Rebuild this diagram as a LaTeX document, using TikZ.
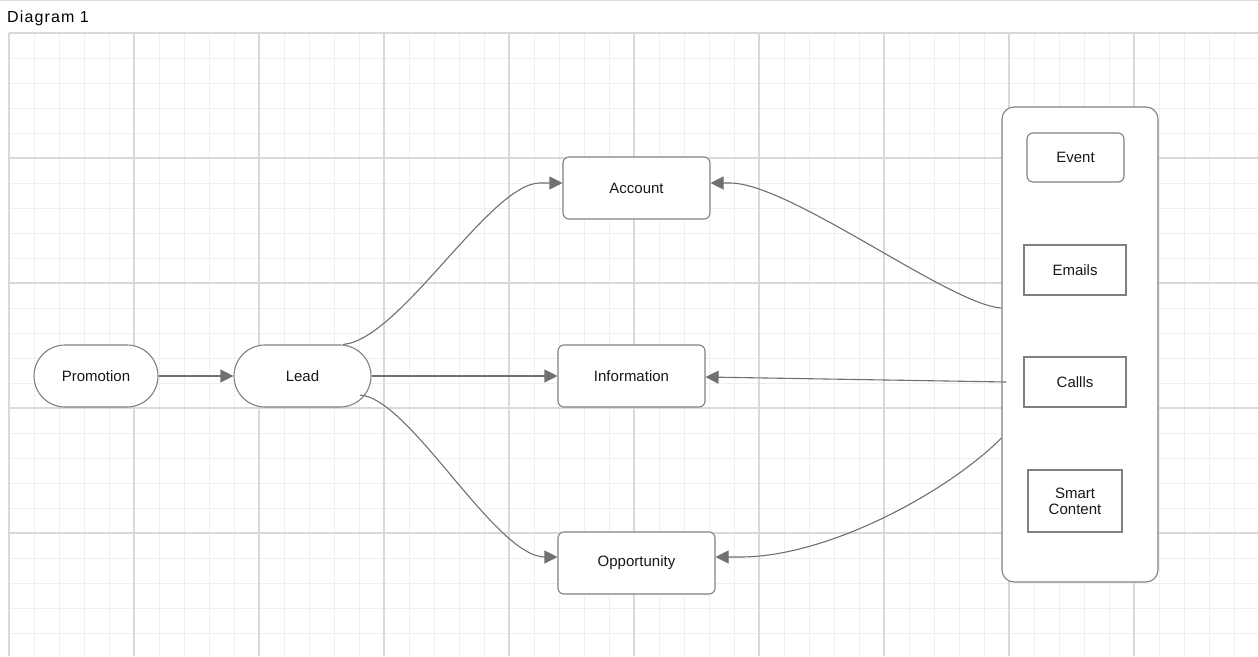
\documentclass[tikz,border=0pt]{standalone}
\usepackage{fontspec}
\setmainfont{Liberation Sans}
\usetikzlibrary{arrows.meta,calc}
\definecolor{edgegray}{HTML}{707070}
\definecolor{boxgray}{HTML}{808080}
\definecolor{minorgrid}{HTML}{EFEFEF}
\definecolor{majorgrid}{HTML}{D9D9D9}
\tikzset{
  minorline/.style={draw=minorgrid, line width=1pt},
  majorline/.style={draw=majorgrid, line width=1.2pt},
  lbl/.style={font=\fontsize{15}{17}\selectfont, text=black!90, align=center},
  stadium/.style={lbl, draw=boxgray, fill=white, line width=1.1pt, rounded corners=31pt, minimum width=124pt, minimum height=62pt, inner sep=0pt},
  rbox/.style={lbl, draw=boxgray, fill=white, line width=1.1pt, rounded corners=6pt, inner sep=0pt},
  sbox/.style={lbl, draw=boxgray, fill=white, line width=1.1pt, inner sep=0pt},
  arr/.style={draw=edgegray, line width=1.1pt, -{Triangle[length=13pt,width=13pt]}, shorten >=0pt},
}
\begin{document}
\begin{tikzpicture}[x=1pt,y=-1pt]
\useasboundingbox (0,0) rectangle (1258,656);
\fill[white] (0,0) rectangle (1258,656);
\draw[draw=majorgrid, line width=1pt] (0,0.5) -- (1258,0.5);
% grid
\foreach \i in {0,...,49} {\draw[minorline] ({9+25*\i},33) -- ({9+25*\i},656);}
\foreach \j in {0,...,24} {\draw[minorline] (9,{33+25*\j}) -- (1258,{33+25*\j});}
\foreach \i in {0,...,9} {\draw[majorline] ({9+125*\i},33) -- ({9+125*\i},656);}
\foreach \j in {0,...,4} {\draw[majorline] (9,{33+125*\j}) -- (1258,{33+125*\j});}
% title
\node[anchor=base west, inner sep=0pt, font=\fontsize{16}{18}\selectfont\addfontfeature{LetterSpace=7}] (title) at (7,22) {Diagram 1};
% nodes
\node[stadium] (prom) at (96,376) {Promotion};
\node[stadium, minimum width=137pt] (lead) at (302.5,376) {Lead};
\node[rbox, minimum width=147pt, minimum height=62pt] (acc) at (636.5,188) {Account};
\node[rbox, minimum width=147pt, minimum height=62pt] (info) at (631.5,376) {Information};
\node[rbox, minimum width=157pt, minimum height=62pt] (opp) at (636.5,563) {Opportunity};
\node[draw=boxgray, fill=white, line width=1.1pt, rounded corners=12pt, minimum width=156pt, minimum height=475pt, inner sep=0pt] (cont) at (1080,344.5) {};
\node[rbox, minimum width=97pt, minimum height=49pt] (event) at (1075.5,157.5) {Event};
\node[sbox, minimum width=102pt, minimum height=50pt] (emails) at (1075,270) {Emails};
\node[sbox, minimum width=102pt, minimum height=50pt] (calls) at (1075,382) {Callls};
\node[sbox, minimum width=94pt, minimum height=62pt] (smart) at (1075,501) {Smart\\[-1pt]Content};
% connectors
\coordinate (leadtop) at ($(lead.north)+(40.5,0)$);
\coordinate (leadbot) at (360,395);
\coordinate (contA) at ($(cont.west)+(0,-36.5)$);
\coordinate (contO) at ($(cont.west)+(0,93.5)$);
\coordinate (callsL) at ($(calls.west)+(-17,0)$);
\draw[arr] (prom) -- (lead);
\draw[arr] (lead.east) -- (info.west);
\draw[arr] (leadtop) .. controls (400,340) and (490,183) .. (540,183) -- ($(acc.west)+(0,-5)$);
\draw[arr] (leadbot) .. controls (410,398) and (495,557) .. (545,557) -- ($(opp.west)+(0,-6)$);
\draw[arr] (contA) .. controls (950,305) and (790,183) .. (730,183) -- ($(acc.east)+(0,-5)$);
\draw[arr] (contO) .. controls (950,490) and (830,557) .. (740,557) -- ($(opp.east)+(0,-6)$);
\draw[arr] (callsL) -- ($(info.east)+(0,1)$);
\end{tikzpicture}
\end{document}
